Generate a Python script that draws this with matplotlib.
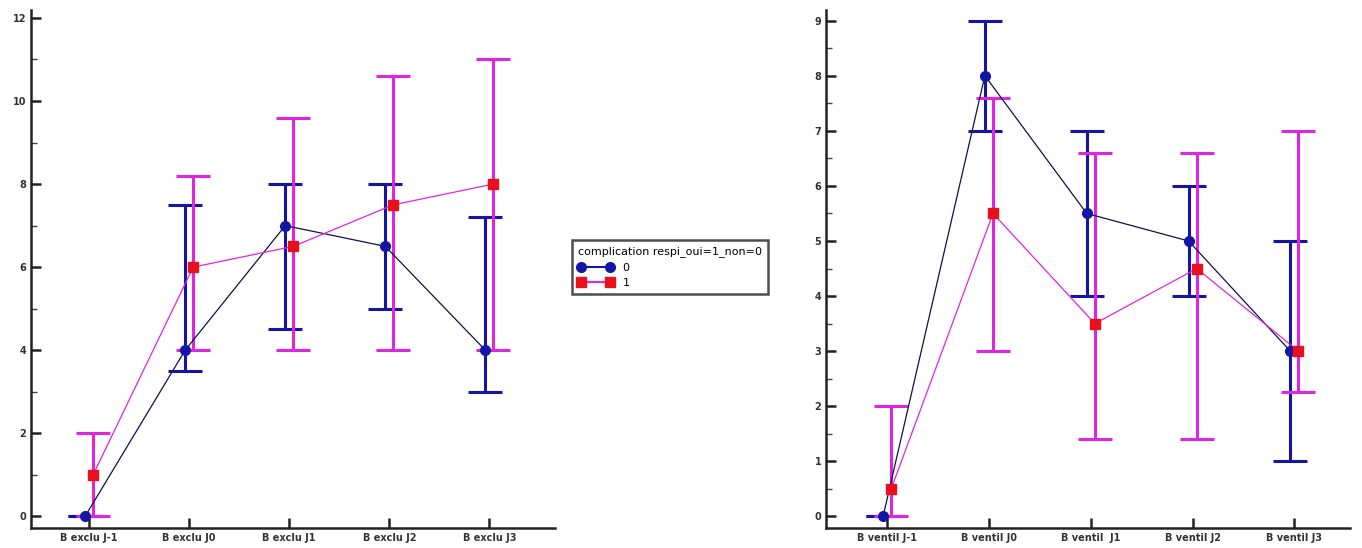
import numpy as np
import matplotlib.pyplot as plt
from matplotlib.ticker import MultipleLocator

# B exclu panel
excl_labels = ["B exclu J-1", "B exclu J0", "B exclu J1", "B exclu J2", "B exclu J3"]
excl_mean_0 = [0, 4, 7, 6.5, 4]
excl_low_0 = [0, 3.5, 4.5, 5, 3]
excl_high_0 = [0, 7.5, 8, 8, 7.2]
excl_mean_1 = [1, 6, 6.5, 7.5, 8]
excl_low_1 = [0, 4, 4, 4, 4]
excl_high_1 = [2, 8.2, 9.6, 10.6, 11]

# B ventil panel
vent_labels = ["B ventil J-1", "B ventil J0", "B ventil  J1", "B ventil J2", "B ventil J3"]
vent_mean_0 = [0, 8, 5.5, 5, 3]
vent_low_0 = [0, 7, 4, 4, 1]
vent_high_0 = [0, 9, 7, 6, 5]
vent_mean_1 = [0.5, 5.5, 3.5, 4.5, 3]
vent_low_1 = [0, 3, 1.4, 1.4, 2.25]
vent_high_1 = [2, 7.6, 6.6, 6.6, 7]

BLUE = "#1515a5"
LINE0 = "#101050"
MAG = "#e025e0"
RED = "#e8101a"


def draw_group(ax, x, mean, low, high, color, line_color, marker, mcolor, ms, label):
    mean = np.asarray(mean, dtype=float)
    yerr = np.vstack([mean - np.asarray(low), np.asarray(high) - mean])
    ax.errorbar(x, mean, yerr=yerr, fmt="none", ecolor=color, elinewidth=2.2,
                capsize=12, capthick=2.2, zorder=2)
    ax.plot(x, mean, color=line_color, lw=0.9, zorder=3)
    ax.plot(x, mean, ls="none", marker=marker, ms=ms, color=mcolor,
            mec=mcolor, zorder=4)
    # legend proxy
    return ax.plot([], [], color=color, lw=1.5, marker=marker, ms=ms,
                   mfc=mcolor, mec=mcolor, label=label)[0]


def panel(ax, labels, m0, lo0, hi0, m1, lo1, hi1, ylim, major, minor, xlim):
    x = np.arange(len(labels))
    h0 = draw_group(ax, x - 0.04, m0, lo0, hi0, BLUE, LINE0, "o", BLUE, 7, "0")
    h1 = draw_group(ax, x + 0.04, m1, lo1, hi1, MAG, MAG, "s", RED, 7.5, "1")
    ax.set_xlim(*xlim)
    ax.set_ylim(*ylim)
    ax.set_xticks(x)
    ax.set_xticklabels(labels)
    ax.yaxis.set_major_locator(MultipleLocator(major))
    ax.yaxis.set_minor_locator(MultipleLocator(minor))
    for s in ("top", "right"):
        ax.spines[s].set_visible(False)
    for s in ("left", "bottom"):
        ax.spines[s].set_linewidth(1.8)
        ax.spines[s].set_color("#222222")
    ax.tick_params(axis="both", which="major", direction="in", length=7,
                   width=1.8, color="#222222", labelsize=7, labelcolor="#333333")
    ax.tick_params(axis="y", which="minor", direction="in", length=4,
                   width=1.0, color="#444444")
    for t in ax.get_xticklabels() + ax.get_yticklabels():
        t.set_fontweight("bold")
    return h0, h1


fig = plt.figure(figsize=(13.62, 5.48), dpi=100)
ax1 = fig.add_axes([0.0228, 0.0365, 0.385, 0.946])
ax2 = fig.add_axes([0.6065, 0.0365, 0.385, 0.946])

h0, h1 = panel(ax1, excl_labels, excl_mean_0, excl_low_0, excl_high_0,
               excl_mean_1, excl_low_1, excl_high_1,
               (-0.28, 12.2), 2, 1, (-0.58, 4.66))
panel(ax2, vent_labels, vent_mean_0, vent_low_0, vent_high_0,
      vent_mean_1, vent_low_1, vent_high_1,
      (-0.21, 9.2), 1, 0.5, (-0.6, 4.55))

leg = fig.legend(handles=[h0, h1], title="complication respi_oui=1_non=0",
                 loc="upper left", bbox_to_anchor=(572 / 1362, 1 - 240 / 548),
                 fontsize=8, title_fontsize=8, numpoints=2, handlelength=3.2,
                 fancybox=False, frameon=True, borderpad=0.55,
                 labelspacing=0.5, alignment="left", borderaxespad=0)
leg.get_frame().set_edgecolor("#222222")
leg.get_frame().set_linewidth(1.8)

fig.savefig("out.png", dpi=100)
